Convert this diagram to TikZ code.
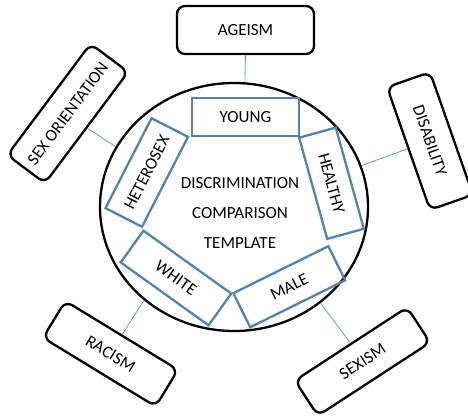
\documentclass[tikz,border=0pt]{standalone}
\usepackage{fontspec}
\setmainfont{Carlito}
\usetikzlibrary{positioning,shapes.geometric}
\definecolor{steel}{RGB}{84,130,170}
\definecolor{sky}{RGB}{91,155,213}
\tikzset{
	inbox/.style={draw=steel, line width=2.3pt, minimum height=38pt, inner sep=0pt},
	outbox/.style={draw=black, line width=2.3pt, rounded corners=8pt, inner sep=0pt},
	link/.style={draw=sky, line width=0.8pt}
}

\begin{document}
\begin{tikzpicture}[x=1pt, y=1pt, font=\fontsize{17}{20}\selectfont]
			\useasboundingbox (0,0) rectangle (468,418);
			\node[draw, ellipse, line width=2.3pt, minimum width=268pt, minimum height=248pt, inner sep=0pt] (frame) at (234,211) {};
			\node[align=center, font=\fontsize{17}{30}\selectfont] (title) at (240,205) {DISCRIMINATION\\COMPARISON\\TEMPLATE};
% 			inner ring
			\node[inbox, minimum width=107pt] (young) at (245.5,301) {YOUNG};
			\node[inbox, minimum width=105pt, rotate=-74.5] (healthy) at (331.5,234.75) {HEALTHY};
			\node[inbox, minimum width=106pt, rotate=26.3] (male) at (289.25,131.25) {MALE};
			\node[inbox, minimum width=108pt, minimum height=39pt, rotate=-35.6] (white) at (176,140) {WHITE};
			\node[inbox, minimum width=101pt, minimum height=41pt, rotate=62.9] (hetero) at (146.75,245.5) {HETEROSEX};
% 			outer boxes
			\node[outbox, minimum width=137pt, minimum height=48pt] (ageism) at (245.5,388) {AGEISM};
			\node[outbox, minimum width=139pt, minimum height=47pt, rotate=53.2] (sexor) at (67.75,304.5) {SEX ORIENTATION};
			\node[outbox, minimum width=130pt, minimum height=45.5pt, rotate=-70.7] (disab) at (430,277) {DISABILITY};
			\node[outbox, minimum width=132pt, minimum height=43pt, rotate=-31.4] (racism) at (110.5,64.25) {RACISM};
			\node[outbox, minimum width=134pt, minimum height=42pt, rotate=33.1] (sexism) at (362.5,56.5) {SEXISM};

			\begin{scope}[link]
			\draw (ageism.south) -- (frame.85);
			\draw (sexor.south) -- (frame.153);
			\draw (disab.south) -- (frame.18);
			\draw (racism.north) -- (frame.226);
			\draw (sexism.north) -- (frame.312);
			\end{scope}
\end{tikzpicture}
\end{document}
